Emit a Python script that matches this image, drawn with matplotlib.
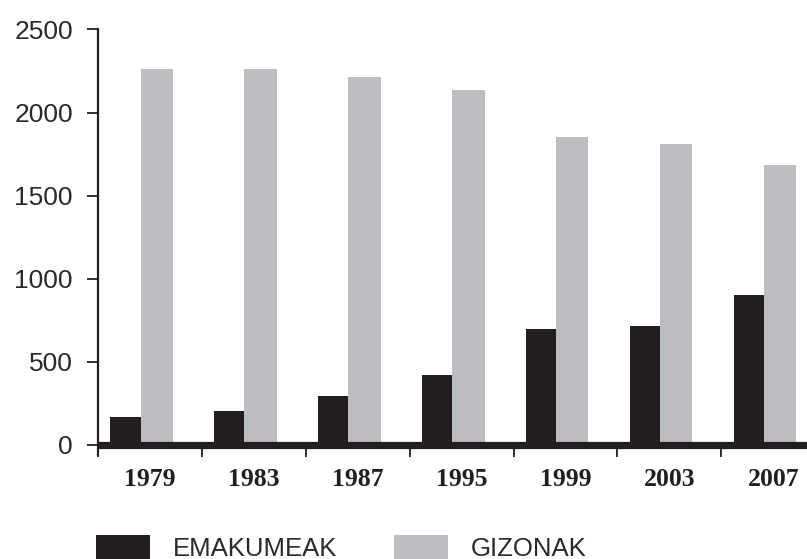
import matplotlib
matplotlib.use("Agg")
import matplotlib.pyplot as plt
import numpy as np
from matplotlib.patches import Patch

years = ["1979", "1983", "1987", "1995", "1999", "2003", "2007"]
emakumeak = [166, 200, 290, 417, 695, 712, 903]
gizonak = [2262, 2262, 2215, 2135, 1853, 1809, 1683]
yticks = [0, 500, 1000, 1500, 2000, 2500]

black = "#231f20"
gray = "#bcbdc1"
sans = ["Liberation Sans", "DejaVu Sans"]
serif = ["Liberation Serif", "DejaVu Serif"]

fig = plt.figure(figsize=(8.07, 5.59), dpi=100)
ax = fig.add_axes([98/807, (559-454.7)/559, 1 - 98/807, (454.7-29.5)/559])

x = np.arange(len(years))
ax.bar(x + 0.12, emakumeak, width=0.29, align="edge", color=black, linewidth=0)
ax.bar(x + 0.41, gizonak, width=0.31, align="edge", color=gray, linewidth=0)

ax.set_xlim(0, 6.824)
ax.set_ylim(-61, 2500)

for s in ["top", "right"]:
    ax.spines[s].set_visible(False)
ax.spines["left"].set_linewidth(1.6)
ax.spines["left"].set_color(black)
ax.spines["bottom"].set_position(("data", 0))
ax.spines["bottom"].set_linewidth(5.2)
ax.spines["bottom"].set_color(black)
ax.spines["bottom"].set_capstyle("butt")

ax.set_yticks(yticks)
ax.set_yticklabels([str(v) for v in yticks], fontfamily=sans, fontsize=19, color="#2a2a2a")
ax.tick_params(axis="y", direction="out", length=8, width=1.3, color=black, pad=10)

ax.set_xticks(x)
ax.set_xticklabels([""] * len(x))
ax.set_xticks(x + 0.5, minor=True)
ax.set_xticklabels(years, minor=True, fontfamily=serif, fontweight="bold", fontsize=18.5, color=black)
ax.tick_params(axis="x", which="major", direction="out", length=8.5, width=1.3, color=black)
ax.tick_params(axis="x", which="minor", length=0, pad=17)

handles = [Patch(facecolor=black, edgecolor="none", label="EMAKUMEAK"),
           Patch(facecolor=gray, edgecolor="none", label="GIZONAK")]
leg = fig.legend(handles=handles, loc="upper left", bbox_to_anchor=(96/807, 1 - 535/559),
                 ncol=2, frameon=False, borderpad=0, borderaxespad=0,
                 handlelength=2.12, handleheight=1.1, handletextpad=0.87, columnspacing=2.2,
                 prop={"family": sans, "size": 18.5})
for t in leg.get_texts():
    t.set_color("#2a2a2a")

fig.savefig("out.png", dpi=100)
